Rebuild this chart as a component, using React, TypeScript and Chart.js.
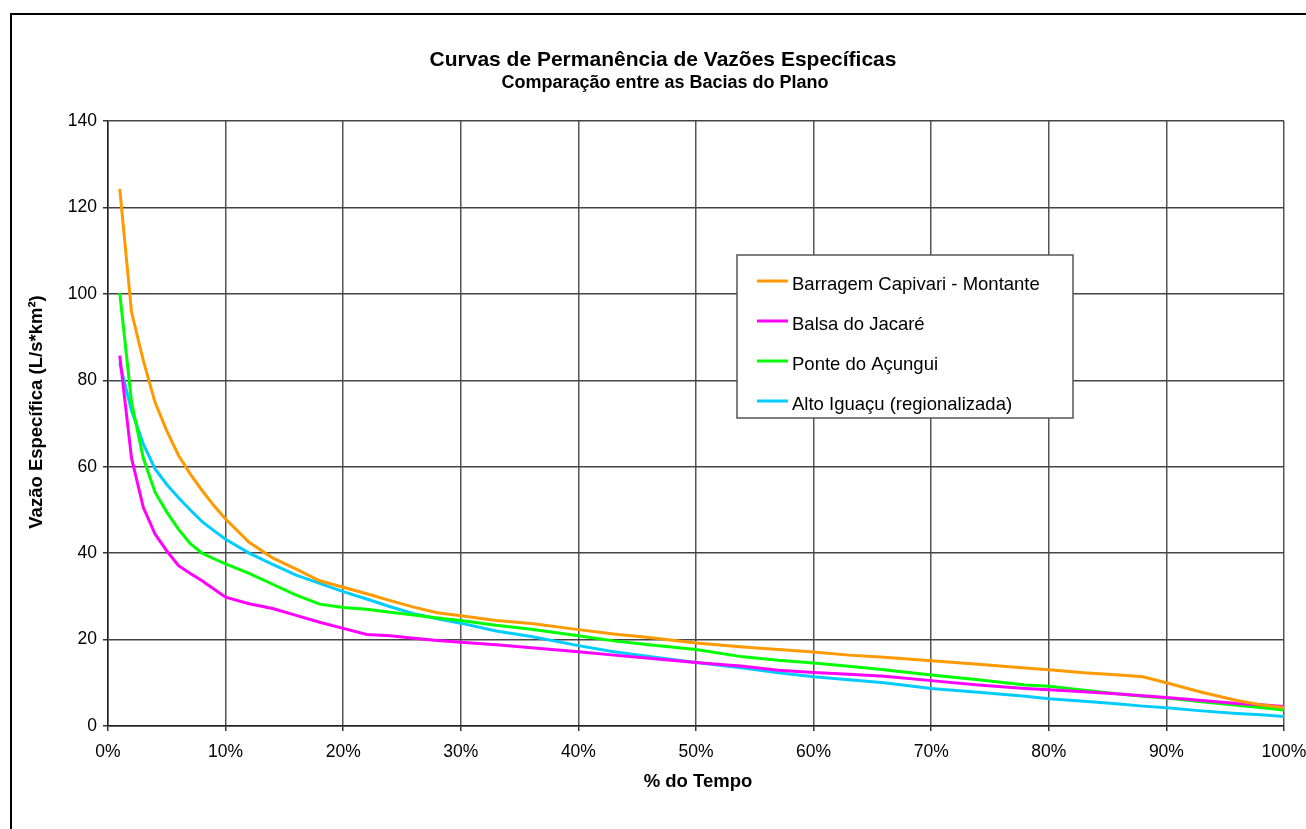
import React, { useEffect, useRef } from "react";
import { Chart, registerables } from "chart.js";

Chart.register(...registerables);

const chartTitle = "Curvas de Permanência de Vazões Específicas";
const chartSubtitle = "Comparação entre as Bacias do Plano";
const xAxisTitle = "% do Tempo";
const yAxisTitle = "Vazão Específica (L/s*km²)";

const percentTime = [1, 2, 3, 4, 5, 6, 7, 8, 9, 10, 12, 14, 16, 18, 20, 22, 24, 26, 28, 30, 33, 36, 40, 43, 46, 50, 54, 57, 60, 63, 66, 70, 74, 78, 80, 83, 86, 88, 90, 93, 96, 98, 100];

const seriesNames = [
  "Barragem Capivari - Montante",
  "Balsa do Jacaré",
  "Ponte do Açungui",
  "Alto Iguaçu (regionalizada)",
];
const seriesColors = ["#FF9900", "#FF00FF", "#00FF00", "#00CCFF"];

const capivari = [124.3, 95.8, 84.6, 74.9, 68.3, 62.6, 58.3, 54.5, 51.0, 47.9, 42.5, 38.9, 36.3, 33.6, 32.1, 30.6, 29.0, 27.5, 26.2, 25.5, 24.4, 23.7, 22.3, 21.3, 20.5, 19.2, 18.3, 17.7, 17.1, 16.4, 15.9, 15.1, 14.3, 13.4, 13.0, 12.3, 11.8, 11.4, 10.0, 7.8, 5.9, 4.9, 4.3];
const balsa = [85.7, 62.0, 50.6, 44.4, 40.5, 37.1, 35.3, 33.6, 31.7, 29.8, 28.3, 27.2, 25.6, 24.0, 22.6, 21.2, 20.9, 20.3, 19.8, 19.4, 18.8, 18.1, 17.2, 16.4, 15.7, 14.7, 13.8, 12.9, 12.4, 12.0, 11.5, 10.5, 9.5, 8.7, 8.4, 7.9, 7.4, 7.0, 6.6, 5.9, 5.2, 4.9, 4.5];
const acungui = [100.2, 75.0, 62.0, 54.1, 49.5, 45.5, 42.2, 40.0, 38.7, 37.5, 35.3, 32.8, 30.3, 28.2, 27.4, 27.0, 26.3, 25.7, 25.0, 24.4, 23.3, 22.4, 20.9, 19.7, 18.8, 17.7, 16.0, 15.2, 14.6, 13.8, 13.0, 11.8, 10.7, 9.5, 9.2, 8.3, 7.4, 6.9, 6.5, 5.6, 4.8, 4.3, 3.7];
const altoIguacu = [84.0, 73.0, 65.3, 59.5, 55.9, 52.8, 50.0, 47.3, 45.2, 43.2, 40.0, 37.4, 34.9, 33.0, 31.1, 29.4, 27.6, 26.0, 24.8, 23.8, 22.0, 20.7, 18.6, 17.2, 16.1, 14.7, 13.4, 12.3, 11.4, 10.7, 10.0, 8.7, 7.8, 6.9, 6.3, 5.7, 5.1, 4.6, 4.2, 3.5, 2.9, 2.6, 2.2];

const seriesValues = [capivari, balsa, acungui, altoIguacu];

const FONT = "'Liberation Sans', Arial, sans-serif";

const decorPlugin = {
  id: "decor",
  beforeDraw(chart: any) {
    const ctx = chart.ctx;
    ctx.save();
    ctx.fillStyle = "#ffffff";
    ctx.fillRect(0, 0, chart.width, chart.height);
    ctx.restore();
  },
  afterDraw(chart: any) {
    const ctx = chart.ctx;
    ctx.save();
    // outer frame (left and top visible)
    ctx.strokeStyle = "#000";
    ctx.lineWidth = 2;
    ctx.strokeRect(11, 14, 1400, 900);

    // titles
    ctx.fillStyle = "#000";
    ctx.textAlign = "center";
    ctx.textBaseline = "alphabetic";
    ctx.font = `bold 21px ${FONT}`;
    ctx.fillText(chartTitle, 663, 66);
    ctx.font = `bold 18px ${FONT}`;
    ctx.fillText(chartSubtitle, 665, 88);

    // axis titles
    ctx.font = `bold 18.5px ${FONT}`;
    ctx.textBaseline = "middle";
    ctx.fillText(xAxisTitle, 698, 782);
    ctx.save();
    ctx.translate(37, 412);
    ctx.rotate(-Math.PI / 2);
    ctx.fillText(yAxisTitle, 0, 0);
    ctx.restore();

    // legend
    const bx = 737, by = 255, bw = 336, bh = 163;
    ctx.fillStyle = "#fff";
    ctx.fillRect(bx, by, bw, bh);
    ctx.strokeStyle = "#555";
    ctx.lineWidth = 1.5;
    ctx.strokeRect(bx, by, bw, bh);
    ctx.font = `18.5px ${FONT}`;
    ctx.textAlign = "left";
    ctx.textBaseline = "alphabetic";
    chart.data.datasets.forEach((ds: any, i: number) => {
      const ly = 281 + i * 40;
      ctx.strokeStyle = ds.borderColor;
      ctx.lineWidth = 3;
      ctx.beginPath();
      ctx.moveTo(757, ly);
      ctx.lineTo(788, ly);
      ctx.stroke();
      ctx.fillStyle = "#000";
      ctx.fillText(ds.label, 792, ly + 8.5);
    });
    ctx.restore();
  },
};

export default function App() {
  const canvasRef = useRef<HTMLCanvasElement | null>(null);

  useEffect(() => {
    if (!canvasRef.current) return;
    const datasets = seriesNames.map((name, i) => ({
      label: name,
      data: percentTime.map((p, j) => ({ x: p, y: seriesValues[i][j] })),
      borderColor: seriesColors[i],
      backgroundColor: seriesColors[i],
      borderWidth: 3,
      pointRadius: 0,
      tension: 0,
      fill: false,
    }));
    const chart = new Chart(canvasRef.current, {
      type: "line",
      data: { datasets },
      plugins: [decorPlugin],
      options: {
        animation: false,
        responsive: false,
        devicePixelRatio: 1,
        layout: { padding: { left: 0, right: 22, top: 121, bottom: 0 } },
        plugins: {
          legend: { display: false },
          title: { display: false },
          tooltip: { enabled: false },
        },
        scales: {
          x: {
            type: "linear",
            min: 0,
            max: 100,
            afterFit: (scale: any) => {
              scale.height = 103;
              scale.paddingLeft = 0;
              scale.paddingRight = 0;
            },
            ticks: {
              stepSize: 10,
              padding: 11,
              color: "#000",
              font: { family: FONT, size: 17.5 },
              maxRotation: 0,
              callback: (v: any) => `${v}%`,
            },
            grid: { color: "#555", lineWidth: 1.5, tickLength: 5, tickColor: "#333" },
            border: { display: true, color: "#222", width: 1.5 },
          },
          y: {
            type: "linear",
            min: 0,
            max: 140,
            afterFit: (scale: any) => {
              scale.width = 108;
              scale.paddingTop = 0;
              scale.paddingBottom = 0;
            },
            ticks: {
              stepSize: 20,
              padding: 6,
              color: "#000",
              font: { family: FONT, size: 17.5 },
            },
            grid: { color: "#444", lineWidth: 1.5, tickLength: 5, tickColor: "#333" },
            border: { display: true, color: "#222", width: 1.5 },
          },
        },
      },
    } as any);
    return () => chart.destroy();
  }, []);

  return (
    <div style={{ position: "absolute", left: 0, top: 0, width: 1306, height: 829 }}>
      <canvas ref={canvasRef} width={1306} height={829} style={{ width: 1306, height: 829, display: "block" }} />
    </div>
  );
}
